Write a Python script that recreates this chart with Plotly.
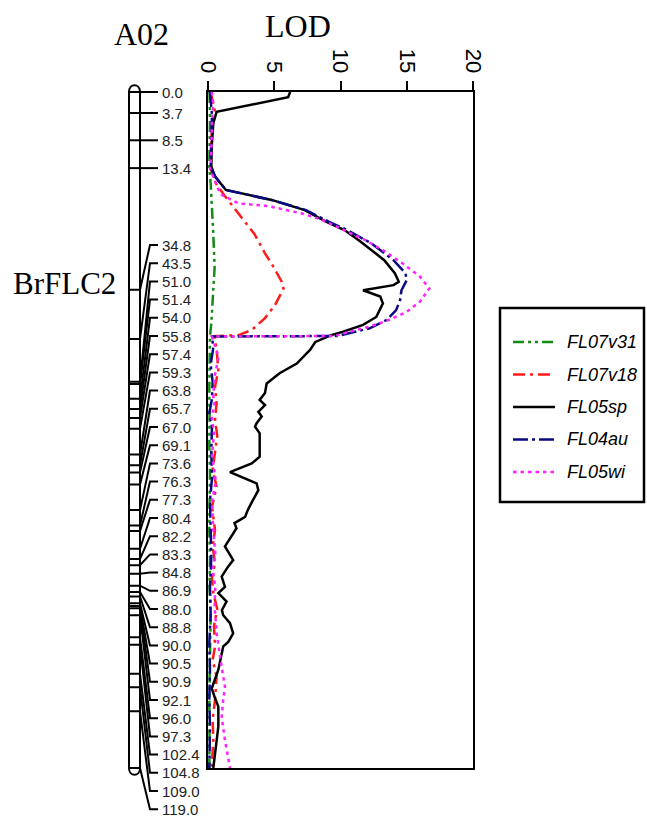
import plotly.graph_objects as go

# ---------------- data ----------------
# genetic map of A02 (cM) and the printed marker labels
marker_pos = [0.0, 3.7, 8.5, 13.4, 34.8, 43.5, 51.0, 51.4, 54.0, 55.8, 57.4, 59.3,
              63.8, 65.7, 67.0, 69.1, 73.6, 76.3, 77.3, 80.4, 82.2, 83.3, 84.8, 86.9,
              88.0, 88.8, 90.0, 90.5, 90.9, 92.1, 96.0, 97.3, 102.4, 104.8, 109.0, 119.0]
marker_labels = ["0.0", "3.7", "8.5", "13.4", "34.8", "43.5", "51.0", "51.4", "54.0",
                 "55.8", "57.4", "59.3", "63.8", "65.7", "67.0", "69.1", "73.6", "76.3",
                 "77.3", "80.4", "82.2", "83.3", "84.8", "86.9", "88.0", "88.8", "90.0",
                 "90.5", "90.9", "92.1", "96.0", "97.3", "102.4", "104.8", "109.0", "119.0"]

lod_ticks = [0, 5, 10, 15, 20]

# LOD profiles (position cM, LOD)
pos_v31 = [0, 5, 10, 13.4, 16, 20, 25, 30.8, 33.1, 36, 40.7, 43, 47, 52, 57, 62, 67, 72,
           77, 82, 87, 92, 97, 102, 107, 112, 119]
lod_v31 = [0.12, 0.15, 0.12, 0.1, 0.2, 0.3, 0.4, 0.5, 0.45, 0.35, 0.25, 0.15, 0.12, 0.1,
           0.12, 0.1, 0.15, 0.12, 0.1, 0.15, 0.12, 0.2, 0.15, 0.12, 0.1, 0.12, 0.1]

pos_v18 = [0, 3.5, 6.7, 10, 13.4, 16.1, 18.1, 21.4, 25.0, 28.4, 31.0, 33.4, 34.6, 37.5,
           39.8, 41.9, 42.8, 43.0, 45.4, 48.9, 51.9, 54.8, 57.7, 60.5, 63.6, 66.5, 69.5,
           73, 77.1, 80, 82.9, 85.5, 88.2, 91, 94, 97.6, 100, 102.9, 107, 110.5, 114, 119]
lod_v18 = [0.2, 0.53, 0.28, 0.25, 0.2, 0.6, 1.2, 2.3, 3.5, 4.3, 5.0, 5.56, 5.7, 5.06,
           4.3, 3.3, 2.3, 0.5, 0.65, 0.78, 0.53, 0.65, 0.53, 0.7, 0.53, 0.35, 0.65,
           0.3, 0.53, 0.35, 0.53, 0.3, 0.4, 0.7, 0.45, 0.53, 0.35, 0.65, 0.53, 0.35, 0.4, 0.28]

pos_sp = [0, 0.9, 3.5, 5.5, 9.6, 13.1, 14.9, 17.25, 19.0, 20.8, 22.8, 24.3, 26.3, 29.6,
          31.9, 33.4, 34.0, 34.9, 36.0, 37.2, 39.6, 41.0, 42.2, 42.8, 44.0, 45.4, 47.8,
          49.5, 51.3, 53.0, 54.2, 55.1, 56.3, 57.1, 58.3, 58.9, 60.1, 62.4, 64.2, 65.4,
          66.9, 68.9, 70.1, 71.8, 73.6, 74.8, 75.9, 76.8, 80.0, 82.4, 83.6, 85.3, 87.1,
          88.2, 89.7, 91.2, 92.1, 93.5, 95.3, 96.8, 97.6, 101.7, 105.0, 106.7, 108.2,
          111.7, 116.4, 119.0]
lod_sp = [6.2, 6.05, 0.65, 0.4, 0.28, 0.25, 0.53, 1.35, 4.8, 7.3, 8.9, 10.3, 11.5, 13.3,
          14.1, 14.4, 14.0, 11.7, 13.0, 13.2, 12.7, 11.7, 10.2, 9.3, 8.1, 7.7, 6.7,
          5.4, 4.43, 4.3, 3.9, 4.3, 3.8, 4.05, 3.67, 3.55, 3.9, 3.9, 3.9, 3.3,
          1.66, 3.67, 3.8, 3.4, 3.0, 2.8, 2.0, 2.15, 1.28, 1.9, 1.5, 1.03, 1.28,
          0.78, 1.4, 1.05, 1.15, 1.66, 1.9, 1.53, 1.15, 0.78, 0.28, 0.53, 0.78,
          0.78, 0.53, 0.4]

pos_au = [0, 4, 8, 13.4, 14.9, 17.25, 19.0, 20.8, 22.8, 24.3, 26.6, 29.6, 31.9, 33.1,
          34.9, 36.6, 38.4, 40.1, 41.6, 42.5, 42.95, 43.05, 45, 48, 51, 54, 56.5, 59, 63,
          68, 72, 77, 82, 87, 92, 97, 102, 107, 112, 119]
lod_au = [0.15, 0.3, 0.25, 0.2, 0.55, 1.35, 4.8, 7.4, 9.1, 10.5, 12.3, 14.0, 14.9, 15.0,
          14.6, 14.5, 14.2, 13.5, 12.2, 10.7, 9.8, 0.3, 0.4, 0.2, 0.35, 0.3, 0.1, 0.3, 0.25,
          0.3, 0.15, 0.2, 0.25, 0.15, 0.2, 0.1, 0.15, 0.1, 0.15, 0.1]

pos_wi = [0, 2, 5, 8, 11, 13.5, 15, 17.25, 18.1, 19.6, 20.1, 21.4, 22.5, 24.0, 26.1, 28.0,
          30.2, 32.5, 34.6, 36.9, 38.7, 40.1, 41.3, 42.5, 42.95, 43.05, 44.5, 46.6, 50.1,
          53.6, 54.8, 57.2, 60, 64, 68.6, 72, 77.1, 81.2, 84, 87.1, 90.6, 95.3, 101.2,
          104.7, 107.0, 110, 114.1, 117.0, 119]
lod_wi = [0.28, 0.4, 0.3, 0.3, 0.25, 0.15, 0.4, 0.8, 1.03, 2.3, 4.6, 7.1, 8.6, 10.0, 11.9,
          13.3, 14.7, 16.0, 16.7, 16.0, 15.0, 13.7, 12.2, 10.2, 9.6, 0.3, 0.5, 0.8, 0.5,
          0.4, 0.5, 0.28, 0.45, 0.3, 0.6, 0.3, 0.4, 0.55, 0.35, 0.55, 0.5, 0.65, 1.03,
          1.28, 1.15, 1.03, 1.28, 1.53, 1.66]

series_names = ["FL07v31", "FL07v18", "FL05sp", "FL04au", "FL05wi"]

# ---------------- layout / style ----------------
W, H = 647, 818                       # figure size = page size (body margin removed)
TOP_PX, BOT_PX = 92, 768              # page rows of 0 cM and of the map end
MAP_MAX = 119.0
SCALE = (BOT_PX - TOP_PX) / MAP_MAX


def px_to_cm(py):
    return (py - TOP_PX) / SCALE


def fx(px):
    return px / W


def fy(py):
    return 1 - py / H


SERIF = "Times New Roman, Liberation Serif, serif"
SANS = "Arial, Liberation Sans, sans-serif"

styles = {
    "FL07v31": dict(color="#138a13", dash="11px,4px,3px,4px,3px,4px"),
    "FL07v18": dict(color="#ff1a1a", dash="12px,5px,3px,5px"),
    "FL05sp": dict(color="#000000", dash="solid"),
    "FL04au": dict(color="#0a0a80", dash="15px,4px,3px,4px"),
    "FL05wi": dict(color="#ff22ff", dash="3.5px,4px"),
}
profiles = {
    "FL07v31": (pos_v31, lod_v31),
    "FL07v18": (pos_v18, lod_v18),
    "FL05sp": (pos_sp, lod_sp),
    "FL04au": (pos_au, lod_au),
    "FL05wi": (pos_wi, lod_wi),
}

fig = go.Figure()

# ---- chromosome connectors (map panel: x in page pixels, y in cM) ----
CH_L, CH_R = 129, 140
BEND_X, END_X, TEXT_X = 150, 158, 161
LABEL_TOP_PX, LABEL_STEP_PX = 245, 18.2
label_cm = []
for i, p in enumerate(marker_pos):
    if i < 4:
        label_cm.append(p)
    else:
        label_cm.append(px_to_cm(LABEL_TOP_PX + (i - 4) * LABEL_STEP_PX))

cx, cy = [], []
for p, lc in zip(marker_pos, label_cm):
    cx += [CH_L, CH_R, BEND_X, END_X, None]
    cy += [p, p, lc, lc, None]

fig.add_trace(go.Scatter(x=cx, y=cy, mode="lines", line=dict(color="black", width=2),
                         xaxis="x", yaxis="y", showlegend=False, hoverinfo="skip"))

# ---- LOD profiles ----
for name in series_names:
    pos, lod = profiles[name]
    st = styles[name]
    fig.add_trace(go.Scatter(x=lod, y=pos, mode="lines", name=name, showlegend=False,
                             line=dict(color=st["color"], width=2.5, dash=st["dash"]),
                             xaxis="x2", yaxis="y2"))

# chromosome outline with rounded ends
r = 1.2
chrom_path = (f"M {CH_L},0 L {CH_L},{MAP_MAX} "
              f"C {CH_L},{MAP_MAX + 1.33 * r} {CH_R},{MAP_MAX + 1.33 * r} {CH_R},{MAP_MAX} "
              f"L {CH_R},0 C {CH_R},{-1.33 * r} {CH_L},{-1.33 * r} {CH_L},0 Z")
shapes = [dict(type="path", path=chrom_path, xref="x", yref="y",
               line=dict(color="black", width=2), fillcolor="rgba(0,0,0,0)")]

annotations = []
for lab, lc in zip(marker_labels, label_cm):
    annotations.append(dict(x=TEXT_X, y=lc, xref="x", yref="y", text=lab, showarrow=False,
                            xanchor="left", yanchor="middle", borderpad=0,
                            font=dict(family=SANS, size=15, color="#222222")))

annotations += [
    dict(x=fx(141), y=fy(34), xref="paper", yref="paper", text="A02", showarrow=False,
         xanchor="center", yanchor="middle", font=dict(family=SERIF, size=32, color="black")),
    dict(x=fx(298), y=fy(26), xref="paper", yref="paper", text="LOD", showarrow=False,
         xanchor="center", yanchor="middle", font=dict(family=SERIF, size=32, color="black")),
    dict(x=fx(118), y=fy(283), xref="paper", yref="paper", text="BrFLC2", showarrow=False,
         xanchor="right", yanchor="middle", font=dict(family=SERIF, size=31, color="black")),
]

# ---- legend box (drawn in page pixels) ----
LEG_X0, LEG_X1, LEG_Y0, LEG_Y1 = 500, 644, 308, 502
LEG_FIRST_Y, LEG_STEP = 342, 32.5
LEG_LINE_X0, LEG_LINE_X1, LEG_TEXT_X = 513, 555, 565
shapes.append(dict(type="rect", xref="paper", yref="paper",
                   x0=fx(LEG_X0), x1=fx(LEG_X1), y0=fy(LEG_Y1), y1=fy(LEG_Y0),
                   line=dict(color="black", width=2.5), fillcolor="white", layer="above"))
for k, name in enumerate(series_names):
    yy = fy(LEG_FIRST_Y + k * LEG_STEP)
    st = styles[name]
    shapes.append(dict(type="line", xref="paper", yref="paper",
                       x0=fx(LEG_LINE_X0), x1=fx(LEG_LINE_X1), y0=yy, y1=yy,
                       line=dict(color=st["color"], width=2.5, dash=st["dash"]),
                       layer="above"))
    annotations.append(dict(x=fx(LEG_TEXT_X), y=yy, xref="paper", yref="paper", text=name,
                            showarrow=False, xanchor="left", yanchor="middle",
                            font=dict(family=SANS, size=18, color="black", style="italic")))

fig.update_layout(
    width=W, height=H,
    margin=dict(l=0, r=0, t=0, b=0, autoexpand=False),
    paper_bgcolor="white", plot_bgcolor="rgba(0,0,0,0)",
    xaxis=dict(domain=[0, 1], range=[0, W], visible=False, fixedrange=True),
    yaxis=dict(domain=[0, 1], range=[px_to_cm(H), px_to_cm(0)], visible=False,
               fixedrange=True),
    xaxis2=dict(domain=[fx(208), fx(473)], range=[0, 20], anchor="y2", side="top",
                showline=True, linecolor="black", linewidth=2, mirror=True,
                ticks="outside", ticklen=9, tickwidth=2, tickcolor="black",
                tickvals=lod_ticks, tickangle=90,
                tickfont=dict(family=SANS, size=22, color="black"),
                showgrid=False, zeroline=False, fixedrange=True),
    yaxis2=dict(domain=[fy(BOT_PX), fy(TOP_PX)], range=[MAP_MAX, 0], anchor="x2",
                showline=True, linecolor="black", linewidth=2, mirror=True,
                showticklabels=False, ticks="", showgrid=False, zeroline=False,
                fixedrange=True),
    shapes=shapes,
    annotations=annotations,
    showlegend=False,
)

# the page's default body margin would shift the figure; remove it so the
# figure exactly fills the 647x818 window
fig.write_html("out.html", config={"displayModeBar": False},
               post_script="document.documentElement.style.overflow='hidden';"
                           "document.body.style.margin='0';"
                           "document.body.style.overflow='hidden';")
